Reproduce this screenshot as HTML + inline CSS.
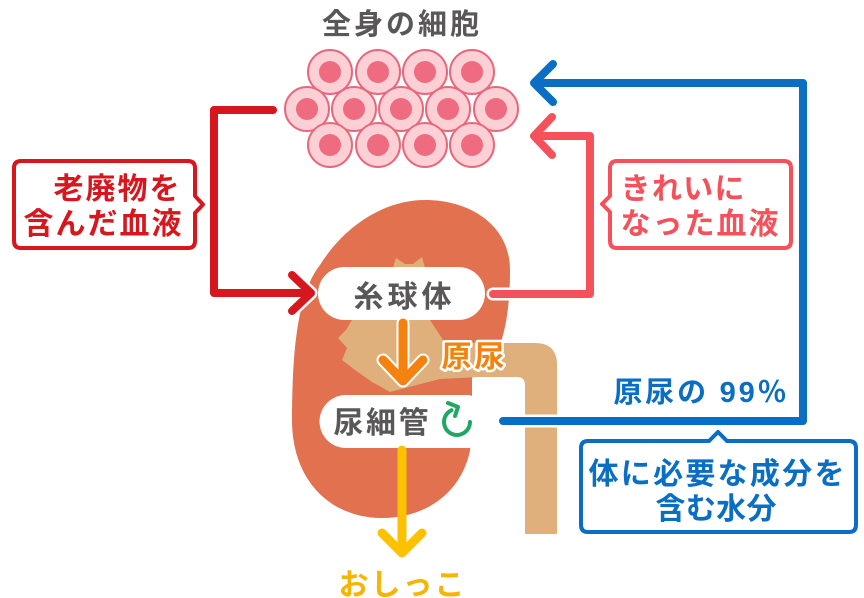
<!DOCTYPE html>
<html><head><meta charset="utf-8"><style>
html,body{margin:0;padding:0;background:#fff;}
svg{display:block;}
text{font-family:"Liberation Sans","Noto Sans CJK JP",sans-serif;font-weight:bold;}
</style></head><body>
<svg width="864" height="598" viewBox="0 0 864 598" xmlns="http://www.w3.org/2000/svg">
<!-- title -->
<text x="322" y="34" font-size="29" fill="#595757" textLength="157" lengthAdjust="spacing">全身の細胞</text>
<!-- cells -->
<g stroke="#e9677a" stroke-width="2" fill="#fdd0d6">
<circle cx="330" cy="72" r="22"/><circle cx="378" cy="72" r="22"/><circle cx="425" cy="72" r="22"/><circle cx="472" cy="72" r="22"/>
<circle cx="307" cy="109" r="22"/><circle cx="354" cy="109" r="22"/><circle cx="401" cy="109" r="22"/><circle cx="448" cy="109" r="22"/><circle cx="496" cy="109" r="22"/>
<circle cx="330" cy="145" r="22"/><circle cx="378" cy="145" r="22"/><circle cx="425" cy="145" r="22"/><circle cx="472" cy="145" r="22"/>
</g>
<g fill="#ef6b80">
<circle cx="330" cy="72" r="11"/><circle cx="378" cy="72" r="11"/><circle cx="425" cy="72" r="11"/><circle cx="472" cy="72" r="11"/>
<circle cx="307" cy="109" r="11"/><circle cx="354" cy="109" r="11"/><circle cx="401" cy="109" r="11"/><circle cx="448" cy="109" r="11"/><circle cx="496" cy="109" r="11"/>
<circle cx="330" cy="145" r="11"/><circle cx="378" cy="145" r="11"/><circle cx="425" cy="145" r="11"/><circle cx="472" cy="145" r="11"/>
</g>
<!-- kidney -->
<path d="M 425 200 C 470 200 510 225 510 270 C 510 300 507 325 500 345 L 472 378 L 472 430 C 472 485 432 518 382 518 C 330 518 292 480 292 420 C 292 340 300 290 320 265 C 345 225 385 200 425 200 Z" fill="#e1714f"/>
<!-- pelvis -->
<path d="M 393 268 L 396 258 L 405 264 L 413 264 L 422 257 L 425 268 Z" fill="#dfb07b"/>
<path d="M 352 320 L 430 320 L 445 343 L 480 343 L 480 377 L 440 379 L 405 388 L 390 392 L 372 382 L 355 370 L 342 360 L 347 348 L 338 338 L 346 330 Z" fill="#dfb07b"/>
<!-- ureter -->
<path d="M 440 343 H 535 Q 557 343 557 365 V 534 H 525 V 385 Q 525 377 517 377 H 440 Z" fill="#dfb07b"/>
<!-- pills -->
<rect x="318" y="267" width="167" height="53" rx="26.5" fill="#fff"/>
<path d="M 346 395 H 468 Q 474 395 474 401 V 442 Q 474 448 468 448 H 346 A 26.5 26.5 0 0 1 346 395 Z" fill="#fff"/>
<text x="353.5" y="307" font-size="30" fill="#595757" textLength="98" lengthAdjust="spacing">糸球体</text>
<text x="333.5" y="433" font-size="30" fill="#595757" textLength="95" lengthAdjust="spacing">尿細管</text>
<!-- green cycle arrow -->
<g fill="none" stroke="#20a862" stroke-width="4" stroke-linecap="round" stroke-linejoin="round">
<path d="M 470 422 A 13 13 0 1 1 451.5 410.2"/>
<path d="M 448 403 L 458 407 L 455 416"/>
</g>
<!-- orange arrow -->
<g fill="none" stroke-linecap="round" stroke-linejoin="round">
<path d="M 403 323 V 381 M 383 360 L 403 381 L 423 360" stroke="#fff" stroke-width="13"/>
<path d="M 403 323 V 381 M 383 360 L 403 381 L 423 360" stroke="#f5820f" stroke-width="9"/>
</g>
<text x="441.5" y="367" font-size="30" fill="#f5820f" stroke="#fff" stroke-width="5" paint-order="stroke" stroke-linejoin="round" textLength="63" lengthAdjust="spacing">原尿</text>
<!-- yellow arrow -->
<g fill="none" stroke="#fcc200" stroke-width="9" stroke-linecap="round" stroke-linejoin="round">
<path d="M 402 450 V 553 M 382 533 L 402 553 L 422 533"/>
</g>
<text x="338.5" y="595" font-size="30" fill="#f6b500" textLength="126" lengthAdjust="spacing">おしっこ</text>
<!-- left dark red -->
<g fill="none" stroke-linecap="round" stroke-linejoin="round">
<path d="M 292 275 L 311 293 L 292 311 M 290 293 H 311" stroke="#fff" stroke-width="13"/>
<path d="M 273 110 H 214 V 293 H 311 M 292 275 L 311 293 L 292 311" stroke="#d7161e" stroke-width="8"/>
</g>
<path d="M 21 161 H 188 Q 195 161 195 168 V 196 L 203 204.5 L 195 213 V 241 Q 195 248 188 248 H 21 Q 14 248 14 241 V 168 Q 14 161 21 161 Z" fill="#fff" stroke="#d7161e" stroke-width="4" stroke-linejoin="round"/>
<text x="53.5" y="199" font-size="30" fill="#d7161e" textLength="126" lengthAdjust="spacing">老廃物を</text>
<text x="23.5" y="234" font-size="30" fill="#d7161e" textLength="158" lengthAdjust="spacing">含んだ血液</text>
<!-- light red -->
<g fill="none" stroke-linecap="round" stroke-linejoin="round">
<path d="M 493 294 H 515" stroke="#fff" stroke-width="13"/>
<path d="M 493 294 H 590 V 136 H 534 M 552 117 L 534 136 L 552 155" stroke="#f4515a" stroke-width="8"/>
</g>
<path d="M 617 161 H 784 Q 791 161 791 168 V 241 Q 791 248 784 248 H 617 Q 610 248 610 241 V 212 L 602 204 L 610 196 V 168 Q 610 161 617 161 Z" fill="#fff" stroke="#f4515a" stroke-width="4" stroke-linejoin="round"/>
<text x="620.5" y="199" font-size="30" fill="#f4515a" textLength="124" lengthAdjust="spacing">きれいに</text>
<text x="620.5" y="234" font-size="30" fill="#f4515a" textLength="158" lengthAdjust="spacing">なった血液</text>
<!-- blue -->
<g fill="none" stroke-linecap="round" stroke-linejoin="round">
<path d="M 503 421 H 565" stroke="#fff" stroke-width="13"/>
<path d="M 503 421 H 803 V 83 H 534 M 553 64 L 534 83 L 553 102" stroke="#0a6ec4" stroke-width="8"/>
</g>
<text x="613.5" y="402" font-size="29" fill="#0a6ec4" textLength="173" lengthAdjust="spacing">原尿の 99％</text>
<path d="M 588 441 H 709 L 718 432 L 727 441 H 849 Q 856 441 856 448 V 525 Q 856 532 849 532 H 588 Q 581 532 581 525 V 448 Q 581 441 588 441 Z" fill="#fff" stroke="#0a6ec4" stroke-width="4" stroke-linejoin="round"/>
<text x="588.5" y="484" font-size="30" fill="#0a6ec4" textLength="256" lengthAdjust="spacing">体に必要な成分を</text>
<text x="655.5" y="519" font-size="30" fill="#0a6ec4" textLength="121" lengthAdjust="spacing">含む水分</text>
</svg>
</body></html>
